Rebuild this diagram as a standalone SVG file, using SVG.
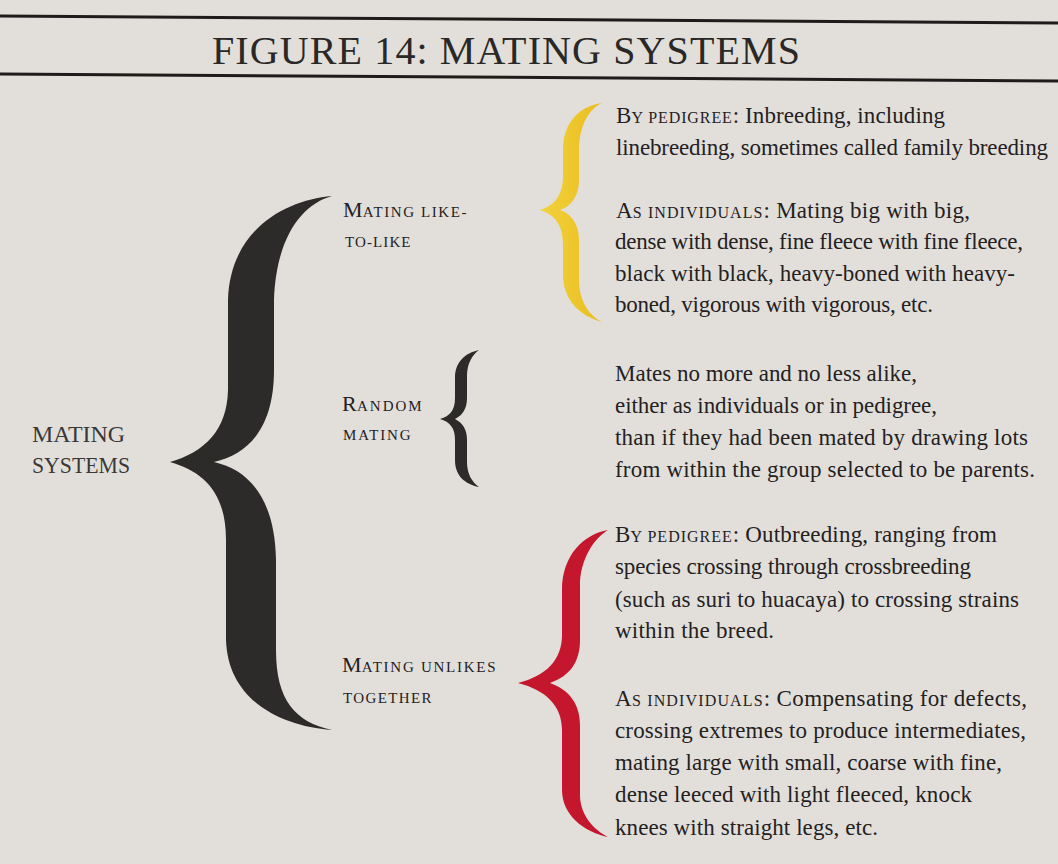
<svg xmlns="http://www.w3.org/2000/svg" width="1058" height="864" viewBox="0 0 1058 864">
<style>
.body{font-family:"Liberation Serif","DejaVu Serif",serif;font-size:23px;fill:#24211f}
.sc{font-size:16px;letter-spacing:0.8px}
.lbl{font-family:"Liberation Serif","DejaVu Serif",serif;font-size:22px;fill:#24211f}
.lsc{font-size:15px;letter-spacing:1.5px}
.root{font-family:"Liberation Serif","DejaVu Serif",serif;font-size:23px;fill:#3a3837}
.title{font-family:"Liberation Serif","DejaVu Serif",serif;font-size:40px;fill:#2a2826}
.rule{stroke:#1e1c1b;stroke-width:3;fill:none}
</style>
<defs>
<linearGradient id="gy" x1="0" y1="0" x2="1" y2="0"><stop offset="0" stop-color="#f3d23c"/><stop offset="1" stop-color="#e9bd1f"/></linearGradient>
</defs>
<rect width="1058" height="864" fill="#e2dfda"/>
<g id="header">
<line class="rule" x1="0" y1="16" x2="1058" y2="23"/>
<line class="rule" x1="0" y1="74" x2="1058" y2="81"/>
<text class="title" x="212" y="64" textLength="588" lengthAdjust="spacing">FIGURE 14: MATING SYSTEMS</text>
</g>
<g id="connectors">
<path id="brace-main" fill="#2d2a2a" d="M332,196 C285,200 230,230 228,300 L228,390 C227,430 205,452 170,462 C205,472 226,494 226,540 L226,640 C228,700 280,726 332,730 C295,722 276,700 276,650 L276,560 C275,500 250,470 214,462 C250,454 274,426 274,370 L274,300 C276,240 300,205 332,196 Z"/>
<path id="brace-like" fill="url(#gy)" d="M602,103 C580,106 563,122 563,150 L563,175 C563,195 555,205 540,210 C555,215 563,225 563,245 L563,275 C563,300 580,316 602,322 C590,316 579,302 579,280 L579,240 C579,225 572,214 560,210 C572,206 579,195 579,180 L579,150 C579,125 590,108 602,103 Z"/>
<path id="brace-random" fill="#2d2a2a" d="M479,350 C465,353 455,362 455,378 L455,398 C455,410 450,416 440,419 C450,422 455,428 455,440 L455,460 C455,476 465,484 479,487 C472,482 467,474 467,462 L467,440 C467,430 463,423 455,419 C463,415 467,408 467,398 L467,376 C467,364 472,355 479,350 Z"/>
<path id="brace-unlike" fill="#c4162c" d="M608,530 C584,534 562,555 562,590 L562,635 C562,660 546,676 518,683 C546,690 562,706 562,730 L562,790 C562,815 584,832 608,837 C594,830 580,815 580,795 L580,725 C580,705 570,690 550,683 C570,676 580,662 580,640 L580,585 C580,560 594,538 608,530 Z"/>
</g>
<g id="node-root">
<text class="root" x="32" y="442" textLength="93" lengthAdjust="spacingAndGlyphs">MATING</text>
<text class="root" x="32" y="473" textLength="98" lengthAdjust="spacingAndGlyphs">SYSTEMS</text>
</g>
<g id="node-like">
<text class="lbl" x="343" y="217" textLength="125" lengthAdjust="spacing">M<tspan class="lsc">ATING LIKE-</tspan></text>
<text class="lbl" x="345" y="247" textLength="67" lengthAdjust="spacing"><tspan class="lsc">TO-LIKE</tspan></text>
</g>
<g id="node-random">
<text class="lbl" x="342" y="411" textLength="81" lengthAdjust="spacing">R<tspan class="lsc">ANDOM</tspan></text>
<text class="lbl" x="343" y="440" textLength="69" lengthAdjust="spacing"><tspan class="lsc">MATING</tspan></text>
</g>
<g id="node-unlike">
<text class="lbl" x="342" y="672" textLength="155" lengthAdjust="spacing">M<tspan class="lsc">ATING UNLIKES</tspan></text>
<text class="lbl" x="343" y="703" textLength="90" lengthAdjust="spacing"><tspan class="lsc">TOGETHER</tspan></text>
</g>
<g id="node-like-detail">
<text class="body" x="616" y="123" textLength="329" lengthAdjust="spacing">B<tspan class="sc">Y PEDIGREE</tspan>:  Inbreeding, including</text>
<text class="body" x="616" y="155" textLength="432" lengthAdjust="spacing">linebreeding, sometimes called family breeding</text>
<text class="body" x="616" y="218" textLength="354" lengthAdjust="spacing">A<tspan class="sc">S INDIVIDUALS</tspan>:  Mating big with big,</text>
<text class="body" x="615" y="249" textLength="408" lengthAdjust="spacing">dense with dense, fine fleece with fine fleece,</text>
<text class="body" x="615" y="281" textLength="400" lengthAdjust="spacing">black with black, heavy-boned with heavy-</text>
<text class="body" x="615" y="312" textLength="318" lengthAdjust="spacing">boned, vigorous with vigorous, etc.</text>
</g>
<g id="node-random-detail">
<text class="body" x="615" y="381" textLength="302" lengthAdjust="spacing">Mates no more and no less alike,</text>
<text class="body" x="615" y="413" textLength="322" lengthAdjust="spacing">either as individuals or in pedigree,</text>
<text class="body" x="615" y="445" textLength="413" lengthAdjust="spacing">than if they had been mated by drawing lots</text>
<text class="body" x="615" y="477" textLength="420" lengthAdjust="spacing">from within the group selected to be parents.</text>
</g>
<g id="node-unlike-detail">
<text class="body" x="615" y="542" textLength="382" lengthAdjust="spacing">B<tspan class="sc">Y PEDIGREE</tspan>:  Outbreeding, ranging from</text>
<text class="body" x="615" y="574" textLength="356" lengthAdjust="spacing">species crossing through crossbreeding</text>
<text class="body" x="615" y="607" textLength="404" lengthAdjust="spacing">(such as suri to huacaya) to crossing strains</text>
<text class="body" x="615" y="638" textLength="159" lengthAdjust="spacing">within the breed.</text>
<text class="body" x="615" y="706" textLength="412" lengthAdjust="spacing">A<tspan class="sc">S INDIVIDUALS</tspan>:  Compensating for defects,</text>
<text class="body" x="615" y="738" textLength="411" lengthAdjust="spacing">crossing extremes to produce intermediates,</text>
<text class="body" x="615" y="770" textLength="387" lengthAdjust="spacing">mating large with small, coarse with fine,</text>
<text class="body" x="615" y="802" textLength="357" lengthAdjust="spacing">dense leeced with light fleeced, knock</text>
<text class="body" x="615" y="835" textLength="263" lengthAdjust="spacing">knees with straight legs, etc.</text>
</g>
</svg>
